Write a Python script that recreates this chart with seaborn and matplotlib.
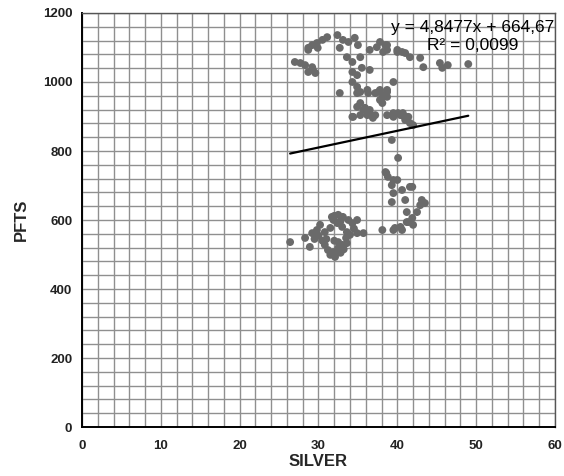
import numpy as np
import pandas as pd
import matplotlib
matplotlib.use("Agg")
import matplotlib.pyplot as plt
from matplotlib.ticker import MultipleLocator
import seaborn as sns

# values
silver = [
    27.0, 27.7, 28.3, 29.2, 29.3, 29.6, 28.7,
    28.7, 29.2, 29.8, 30.5, 31.1, 29.9, 28.7,
    32.4, 33.1, 33.8, 34.6, 35.0, 32.7, 33.6, 35.3,
    36.5, 37.4, 37.8, 38.7, 38.2, 40.0, 41.0,
    34.3, 34.3, 34.9, 35.5, 36.5, 34.3, 34.9, 32.7, 35.3, 36.2, 37.2, 37.8, 38.7, 39.5, 38.2,
    35.3, 35.9, 36.5, 36.2, 35.3, 34.3, 37.2, 37.8, 38.7,
    38.7, 39.5, 40.4, 41.2,
    38.5, 38.7, 40.0, 40.6, 41.6, 42.9, 43.3, 45.4, 45.7, 46.4, 49.0, 38.2, 38.1,
    39.5, 40.1, 40.7, 41.0, 41.4, 42.0,
    34.9, 36.3, 37.6, 38.7, 34.9, 35.7, 36.5, 34.4, 36.9, 40.6, 41.0, 41.6, 39.3, 40.1,
    38.6, 39.5, 40.0, 39.3, 41.9, 40.6, 41.6, 39.5, 39.3, 41.0, 43.1, 42.9, 43.5, 41.2,
    42.5, 41.9, 41.2, 40.4, 39.7, 40.6, 38.1, 39.5, 42.0, 41.4, 38.5, 38.8,
    26.4, 28.9, 28.3, 29.2, 29.8, 30.2, 30.8, 31.5, 31.9, 31.7, 32.5, 33.1, 32.4, 33.0,
    33.6, 34.3, 34.9, 34.0, 34.9, 35.7, 30.8, 31.2, 31.9, 32.5, 33.0, 33.6, 32.1, 31.5,
    32.5, 30.0, 31.0, 32.0, 33.5, 34.5, 32.8, 33.2, 30.5, 29.5, 33.8, 32.0, 32.8,
]
pfts = [
    1058, 1055, 1049, 1043, 1035, 1026, 1029,
    1099, 1107, 1113, 1122, 1130, 1099, 1093,
    1136, 1122, 1116, 1128, 1107, 1099, 1072, 1072,
    1093, 1101, 1116, 1107, 1087, 1093, 1084,
    1058, 1029, 1020, 1041, 1035, 1000, 986, 968, 971, 977, 968, 977, 977, 1000, 957,
    939, 925, 919, 904, 904, 899, 904, 948, 957,
    904, 899, 904, 899,
    1107, 1093, 1087, 1087, 1072, 1070, 1043, 1055, 1041, 1049, 1052, 962, 939,
    910, 910, 910, 896, 899, 875,
    968, 968, 971, 971, 928, 919, 910, 899, 896, 904, 890, 881, 832, 780,
    736, 716, 716, 701, 696, 687, 696, 678, 652, 658, 658, 643, 649, 623,
    623, 606, 594, 580, 577, 571, 571, 571, 586, 594, 739, 725,
    536, 522, 548, 562, 571, 586, 565, 577, 600, 609, 615, 609, 591, 580,
    565, 591, 600, 557, 562, 562, 528, 513, 507, 519, 528, 533, 493, 499,
    536, 555, 545, 540, 548, 575, 505, 515, 540, 545, 600, 612, 597,
]
slope = 4.8477
intercept = 664.67
eq_label = "y = 4,8477x + 664,67"
r2_label = "R² = 0,0099"

df = pd.DataFrame({"SILVER": silver, "PFTS": pfts})
xs = np.array([min(silver), max(silver)])
trend = pd.DataFrame({"SILVER": xs, "PFTS": slope * xs + intercept})

sns.set_style("white")
plt.rcParams["font.family"] = ["Liberation Sans", "DejaVu Sans"]

fig = plt.figure(figsize=(5.64, 4.76), dpi=100)
ax = fig.add_axes([0.1454, 0.1029, 0.8386, 0.8698])

sns.scatterplot(data=df, x="SILVER", y="PFTS", ax=ax, color="#6a6a6a",
                s=32, edgecolor="none", zorder=3)
sns.lineplot(data=trend, x="SILVER", y="PFTS", ax=ax, color="black",
             linewidth=1.6, zorder=4)

ax.set_xlim(0, 60)
ax.set_ylim(0, 1200)
ax.xaxis.set_major_locator(MultipleLocator(10))
ax.xaxis.set_minor_locator(MultipleLocator(2))
ax.yaxis.set_major_locator(MultipleLocator(200))
ax.yaxis.set_minor_locator(MultipleLocator(40))
ax.grid(True, which="both", color="#8f8f8f", linewidth=1.0)
ax.set_axisbelow(True)

ax.tick_params(axis="both", which="major", direction="out", length=4,
               width=1.2, color="black", labelsize=9.5, pad=3)
ax.tick_params(axis="x", which="major", pad=5)
ax.tick_params(axis="both", which="minor", length=0)
for lab in ax.get_xticklabels() + ax.get_yticklabels():
    lab.set_fontweight("bold")
    lab.set_color("#222222")

for side in ["left", "bottom"]:
    ax.spines[side].set_color("black")
    ax.spines[side].set_linewidth(1.4)
for side in ["top", "right"]:
    ax.spines[side].set_color("#555555")
    ax.spines[side].set_linewidth(1.0)

ax.set_xlabel("SILVER", fontsize=12, fontweight="bold", labelpad=2)
ax.set_ylabel("PFTS", fontsize=12, fontweight="bold", labelpad=10)

ax.text(49.6, 1157, eq_label, ha="center", va="center", fontsize=12.5, color="black")
ax.text(49.6, 1105, r2_label, ha="center", va="center", fontsize=12.5, color="black")

fig.savefig("out.png", dpi=100)
